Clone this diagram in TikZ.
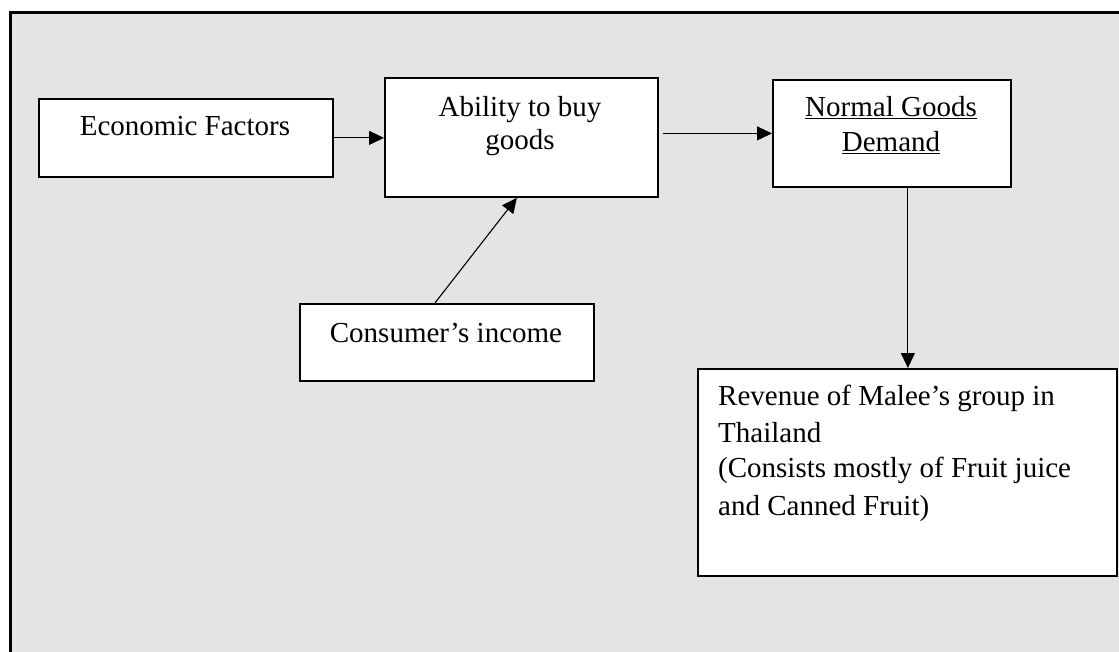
\documentclass[tikz,border=0pt]{standalone}
\usepackage{fontspec}
\setmainfont{Liberation Serif}
\usetikzlibrary{arrows.meta}
\definecolor{bggray}{RGB}{228,228,228}
\tikzset{
  box/.style={draw=black, fill=white, line width=1.8pt, inner sep=0pt, anchor=north west},
  txt/.style={inner sep=0pt, font=\fontsize{29}{34}\selectfont, text=black},
  conn/.style={line width=1.1pt, -{Triangle[length=15pt,width=14pt]}}
}
\begin{document}
\begin{tikzpicture}[x=1pt,y=-1pt]
\useasboundingbox (0,0) rectangle (1119,652);
\fill[bggray] (10,13) rectangle (1119,652);
\draw[line width=3pt] (10,652) -- (10,13) -- (1119,13);
% boxes
\node[box, minimum width=294pt, minimum height=78pt] (eco) at (38,98) {};
\node[box, minimum width=273pt, minimum height=119pt] (abil) at (384,77) {};
\node[box, minimum width=238pt, minimum height=107pt] (norm) at (772,79) {};
\node[box, minimum width=294pt, minimum height=77pt] (cons) at (299,303) {};
\node[box, minimum width=419pt, minimum height=207pt] (rev) at (697,368) {};
% texts
\node[txt, anchor=base] (ecot) at (185,136) {Economic Factors};
\node[txt, anchor=base] (abilt1) at (520,117) {Ability to buy};
\node[txt, anchor=base] (abilt2) at (520,150) {goods};
\node[txt, anchor=base] (normt1) at (891,117) {\underline{Normal Goods}};
\node[txt, anchor=base] (normt2) at (891,152) {\underline{Demand}};
\node[txt, anchor=base] (const) at (446,342) {Consumer’s income};
\node[txt, anchor=base west] (revt1) at (718,405) {Revenue of Malee’s group in};
\node[txt, anchor=base west] (revt2) at (718,442) {Thailand};
\node[txt, anchor=base west] (revt3) at (718,477) {(Consists mostly of Fruit juice};
\node[txt, anchor=base west] (revt4) at (718,515) {and Canned Fruit)};
% connectors
\draw[conn] (eco.east) -- (eco.east -| abil.west);
\draw[conn] ([xshift=4pt]abil.east |- norm.west) -- (norm.west);
\draw[conn] ([xshift=-12pt]cons.north) -- ([xshift=-4.5pt]abil.south);
\draw[conn] ([xshift=16pt]norm.south) -- ([xshift=16pt]norm.south |- rev.north);
\end{tikzpicture}
\end{document}
